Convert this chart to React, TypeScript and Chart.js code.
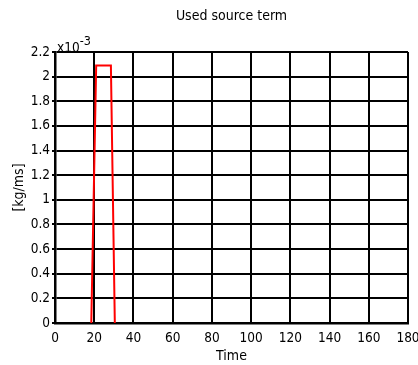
import React, { useEffect, useRef } from "react";
import { Chart, registerables } from "chart.js";

Chart.register(...registerables);

const timeValues = [18.5, 21, 28.5, 30.5];
const sourceValues = [0, 0.00209, 0.00209, 0];
const xTicks = [0, 20, 40, 60, 80, 100, 120, 140, 160, 180];
const yTicks = [0, 0.0002, 0.0004, 0.0006, 0.0008, 0.001, 0.0012, 0.0014, 0.0016, 0.0018, 0.002, 0.0022];
const titleText = "Used source term";
const xTitle = "Time";
const yTitle = "[kg/ms]";
const exponentText = "-3";

const FONT = "'DejaVu Sans Condensed', 'DejaVu Sans', Verdana, sans-serif";

const exponentPlugin = {
  id: "exponentLabel",
  afterDraw(chart: any) {
    const { ctx, chartArea } = chart;
    ctx.save();
    ctx.fillStyle = "#000";
    ctx.textBaseline = "alphabetic";
    ctx.textAlign = "left";
    ctx.font = `13.5px ${FONT}`;
    const base = "x10";
    ctx.fillText(base, chartArea.left + 2, chartArea.top - 0.5);
    const w = ctx.measureText(base).width;
    ctx.font = `12.5px ${FONT}`;
    ctx.fillText(exponentText, chartArea.left + 2 + w, chartArea.top - 7.5);
    ctx.restore();
  },
};

export default function App() {
  const ref = useRef<HTMLCanvasElement | null>(null);
  useEffect(() => {
    if (!ref.current) return;
    Chart.defaults.color = "#000";
    Chart.defaults.font.family = FONT;
    const chart = new Chart(ref.current, {
      type: "scatter",
      data: {
        datasets: [
          {
            label: "source",
            data: timeValues.map((t, i) => ({ x: t, y: sourceValues[i] })),
            showLine: true,
            borderColor: "#ff0000",
            backgroundColor: "#ff0000",
            borderWidth: 2,
            pointRadius: 0,
            tension: 0,
          },
        ],
      },
      options: {
        responsive: false,
        animation: false,
        layout: { padding: { left: 0, right: 10, top: 0, bottom: 0 } },
        plugins: {
          legend: { display: false },
          tooltip: { enabled: false },
          title: {
            display: true,
            fullSize: false,
            text: titleText,
            color: "#000",
            font: { size: 14, weight: "normal", family: FONT },
            padding: { top: 7.6, bottom: 27.6 },
          },
        },
        scales: {
          x: {
            type: "linear",
            min: 0,
            max: 180,
            afterBuildTicks: (s: any) => {
              s.ticks = xTicks.map((v) => ({ value: v }));
            },
            afterFit: (s: any) => {
              s.paddingLeft = 0;
              s.paddingRight = 0;
              s.height = 42;
            },
            ticks: {
              font: { size: 13.5, family: FONT },
              color: "#000",
              padding: 7,
              maxRotation: 0,
              autoSkip: false,
            },
            grid: { color: "#000", lineWidth: 2, drawTicks: false },
            border: { color: "#000", width: 2.5 },
            title: {
              display: true,
              text: xTitle,
              color: "#000",
              font: { size: 14, family: FONT },
              padding: { top: 0, bottom: 0.6 },
            },
          },
          y: {
            type: "linear",
            min: 0,
            max: 0.0022,
            afterBuildTicks: (s: any) => {
              s.ticks = yTicks.map((v) => ({ value: v }));
            },
            afterFit: (s: any) => {
              s.paddingTop = 0;
              s.paddingBottom = 0;
              s.width = 55;
            },
            ticks: {
              font: { size: 13.5, family: FONT },
              color: "#000",
              padding: 2,
              autoSkip: false,
              callback: (v: any) => String(Math.round(Number(v) * 10000) / 10),
            },
            grid: { color: "#000", lineWidth: 2, drawTicks: true, tickLength: 3, tickColor: "#000" },
            border: { color: "#000", width: 2.5 },
            title: {
              display: true,
              text: yTitle,
              color: "#000",
              font: { size: 14, family: FONT },
              padding: { top: 10.6, bottom: 0 },
            },
          },
        },
      },
      plugins: [exponentPlugin],
    });
    return () => chart.destroy();
  }, []);
  return (
    <canvas
      ref={ref}
      width={418}
      height={365}
      style={{ position: "absolute", left: 0, top: 0, width: 418, height: 365 }}
    />
  );
}
